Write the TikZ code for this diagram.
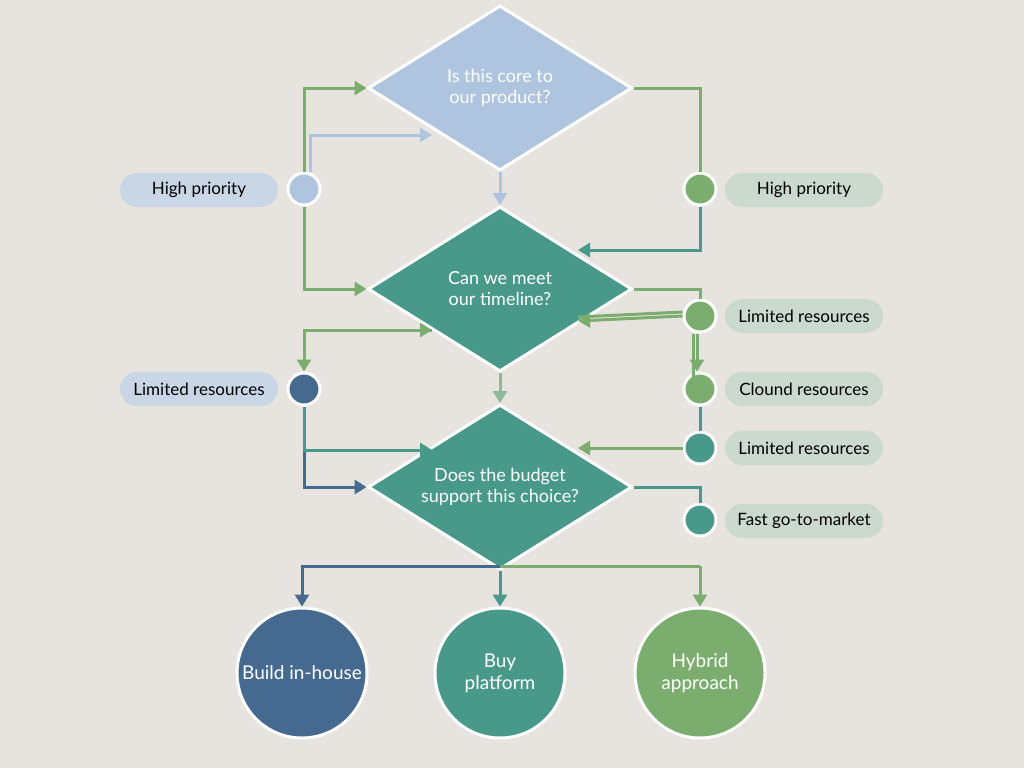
\documentclass[tikz,border=0pt]{standalone}
\usepackage{fontspec}
\setmainfont{Lato}
\usetikzlibrary{shapes.geometric,arrows.meta}
\definecolor{bg}{HTML}{E7E3DF}
\definecolor{lb}{HTML}{AFC5DF}
\definecolor{tl}{HTML}{48998A}
\definecolor{db}{HTML}{46698F}
\definecolor{gr}{HTML}{7BAE6E}
\definecolor{lgr}{HTML}{8DB89A}
\definecolor{pillb}{HTML}{C8D6E6}
\definecolor{pillg}{HTML}{CBD9CE}
\begin{document}
\begin{tikzpicture}[x=1pt,y=-1pt,
  dia/.style={diamond,draw=white,line width=3pt,minimum width=264pt,minimum height=165pt,aspect=1.6,inner sep=0pt,text=white,align=center,font=\fontsize{18}{21}\selectfont},
  dot/.style={circle,draw=white,line width=3pt,minimum size=32pt,inner sep=0pt},
  pill/.style={rounded corners=17pt,minimum width=158pt,minimum height=34pt,inner sep=0pt,font=\fontsize{17}{20}\selectfont},
  big/.style={circle,draw=white,line width=3pt,minimum size=130pt,inner sep=0pt,text=white,align=center,font=\fontsize{19}{22}\selectfont},
  con/.style={line width=3pt,-{Triangle[length=12pt,width=14pt]}},
  ln/.style={line width=3pt}]
\fill[bg] (0,0) rectangle (1024,768);
\useasboundingbox (0,0) rectangle (1024,768);
% diamonds
\node[dia,fill=lb] (d1) at (500,88) {Is this core to\\our product?};
\node[dia,fill=tl] (d2) at (500,289) {Can we meet\\our timeline?};
\node[dia,fill=tl] (d3) at (500,487) {Does the budget\\support this choice?};
% left
\node[pill,fill=pillb] (p1) at (199,190) {High priority};
\node[pill,fill=pillb] (p2) at (199,389) {Limited resources};
\node[dot,fill=lb] (c1) at (304,189) {};
\node[dot,fill=db] (c2) at (304,389) {};
% right
\node[pill,fill=pillg] (q1) at (804,190) {High priority};
\node[pill,fill=pillg] (q2) at (804,316) {Limited resources};
\node[pill,fill=pillg] (q3) at (804,389) {Clound resources};
\node[pill,fill=pillg] (q4) at (804,448) {Limited resources};
\node[pill,fill=pillg] (q5) at (804,521) {Fast go-to-market};
\node[dot,fill=gr] (r1) at (700,189) {};
\node[dot,fill=gr] (r2) at (700,316) {};
\node[dot,fill=gr] (r3) at (700,389) {};
\node[dot,fill=tl] (r4) at (700,448) {};
\node[dot,fill=tl] (r5) at (700,520) {};
% bottom
\node[big,fill=db] (b1) at (302,673) {Build in-house};
\node[big,fill=tl] (b2) at (500,673) {Buy\\platform};
\node[big,fill=gr] (b3) at (700,673) {Hybrid\\approach};
\coordinate (k1) at (432,135);
\coordinate (k2) at (432,330);
\coordinate (k3) at (432,450);
\coordinate (k4) at (578,250);
\coordinate (k5) at (578,321);
\coordinate (k6) at (578,448);
% left connectors
\draw[con,draw=gr,color=gr] (c1.north) |- (d1.west);
\draw[con,draw=lb,color=lb] ([xshift=6pt]c1.north) |- (k1);
\draw[con,draw=gr,color=gr] (c1.south) |- (d2.west);
\draw[con,draw=gr,color=gr] (k2) -| (c2.north);
\draw[con,draw=gr,color=gr] (330,330) -- (k2);
\draw[con,draw=db,color=db] (c2.south) |- (d3.west);
\draw[con,draw=tl,color=tl] (c2.south) |- (k3);
% center
\draw[con,draw=lb,color=lb] (d1.south) -- (d2.north);
\draw[con,draw=lgr,color=lgr] (d2.south) -- (d3.north);
% right connectors
\draw[ln,draw=gr] (d1.east) -| (r1.north);
\draw[con,draw=tl,color=tl] (r1.south) |- (k4);
\draw[ln,draw=gr] (d2.east) -| (r2.north);
\draw[con,draw=gr,color=gr] (r2.west) -- (k5);
\draw[ln,draw=gr] ([yshift=4pt]r2.west) -- ([yshift=4pt]k5);
\draw[con,draw=gr,color=gr] ([xshift=-3pt]r2.south) -- ([xshift=-3pt]r3.north);
\draw[ln,draw=gr] ([xshift=-7pt]r2.south) -- ([xshift=-7pt,yshift=-8pt]r3.north);
\draw[ln,draw=tl] (r3.south) -- (r4.north);
\draw[con,draw=gr,color=gr] (r4.west) -- (k6);
\draw[ln,draw=tl] (d3.east) -| (r5.north);
% bottom connectors
\coordinate (m) at (500,566);
\draw[ln,draw=gr] (m) -- (700,566);
\draw[con,draw=gr,color=gr] (700,566) -- (b3.north);
\draw[con,draw=db,color=db] (m) -| (b1.north);
\draw[con,draw=tl,color=tl] (d3.south) -- (b2.north);
\end{tikzpicture}
\end{document}
